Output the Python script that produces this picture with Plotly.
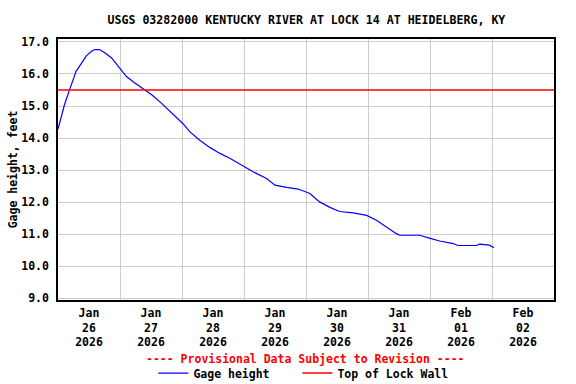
import plotly.graph_objects as go

title = "USGS 03282000 KENTUCKY RIVER AT LOCK 14 AT HEIDELBERG, KY"

times = [
    "2026-01-26 00:00", "2026-01-26 01:15", "2026-01-26 02:30", "2026-01-26 04:30",
    "2026-01-26 05:45", "2026-01-26 07:00", "2026-01-26 09:00", "2026-01-26 11:00",
    "2026-01-26 13:00", "2026-01-26 14:15", "2026-01-26 16:00", "2026-01-26 18:00",
    "2026-01-26 20:45", "2026-01-26 23:45", "2026-01-27 02:30", "2026-01-27 05:45",
    "2026-01-27 09:00", "2026-01-27 12:15", "2026-01-27 16:00", "2026-01-27 20:00",
    "2026-01-28 00:30", "2026-01-28 03:00", "2026-01-28 06:45", "2026-01-28 10:45",
    "2026-01-28 14:30", "2026-01-28 18:30", "2026-01-28 23:30", "2026-01-29 03:30",
    "2026-01-29 08:45", "2026-01-29 12:00", "2026-01-29 16:30", "2026-01-29 21:00",
    "2026-01-30 01:30", "2026-01-30 05:15", "2026-01-30 09:15", "2026-01-30 13:00",
    "2026-01-30 18:15", "2026-01-30 23:30", "2026-01-31 03:15", "2026-01-31 07:00",
    "2026-01-31 11:00", "2026-01-31 12:15", "2026-01-31 20:00", "2026-01-31 23:45",
    "2026-02-01 03:45", "2026-02-01 09:00", "2026-02-01 10:45", "2026-02-01 18:00",
    "2026-02-01 19:15", "2026-02-01 23:00", "2026-02-02 00:45",
]
gage_height = [
    14.28, 14.67, 15.04, 15.51,
    15.77, 16.08, 16.32, 16.57,
    16.71, 16.76, 16.76, 16.67,
    16.50, 16.19, 15.92, 15.72,
    15.53, 15.35, 15.09, 14.78,
    14.44, 14.20, 13.94, 13.71,
    13.53, 13.37, 13.13, 12.95,
    12.74, 12.53, 12.46, 12.41,
    12.27, 12.01, 11.84, 11.71,
    11.67, 11.59, 11.44, 11.23,
    11.02, 10.97, 10.97, 10.88,
    10.79, 10.71, 10.65, 10.65,
    10.69, 10.66, 10.58,
]

lock_wall_x = ["2026-01-26 00:00", "2026-02-03 00:00"]
lock_wall_y = [15.5, 15.5]

day_labels = ["Jan<br>26<br>2026", "Jan<br>27<br>2026", "Jan<br>28<br>2026", "Jan<br>29<br>2026",
              "Jan<br>30<br>2026", "Jan<br>31<br>2026", "Feb<br>01<br>2026", "Feb<br>02<br>2026"]
day_noons = ["2026-01-26 12:00", "2026-01-27 12:00", "2026-01-28 12:00", "2026-01-29 12:00",
             "2026-01-30 12:00", "2026-01-31 12:00", "2026-02-01 12:00", "2026-02-02 12:00"]
day_starts = ["2026-01-27", "2026-01-28", "2026-01-29", "2026-01-30",
              "2026-01-31", "2026-02-01", "2026-02-02"]
y_ticks = [9, 10, 11, 12, 13, 14, 15, 16, 17]
y_labels = ["9.0", "10.0", "11.0", "12.0", "13.0", "14.0", "15.0", "16.0", "17.0"]

FONT = "DejaVu Sans Mono"
fs = 11.5

fig = go.Figure()
fig.add_trace(go.Scatter(x=times, y=gage_height, mode="lines", name="Gage height",
                         line=dict(color="#0000ff", width=1.2), legendwidth=99))
fig.add_trace(go.Scatter(x=lock_wall_x, y=lock_wall_y, mode="lines", name="Top of Lock Wall",
                         line=dict(color="#ff0000", width=1.5), legendwidth=125))

fig.update_layout(
    width=576, height=384,
    margin=dict(l=58, r=22, t=39, b=84, autoexpand=False),
    paper_bgcolor="white", plot_bgcolor="white",
    font=dict(family=FONT, size=fs, color="black"),
    title=dict(text="<b>" + title + "</b>", x=0.532, xanchor="center", y=0.948, yanchor="middle",
               font=dict(family=FONT, size=11.6, color="black")),
    showlegend=True,
    legend=dict(orientation="h", x=0.1923, xanchor="left", y=-0.28, yanchor="middle",
                font=dict(family=FONT, size=fs, color="black", weight="bold"),
                bgcolor="rgba(0,0,0,0)", borderwidth=0, itemwidth=30,
                tracegroupgap=0),
    annotations=[dict(text="<b>---- Provisional Data Subject to Revision ----</b>",
                      xref="paper", yref="paper", x=0.4995, y=-0.226,
                      xanchor="center", yanchor="middle", showarrow=False,
                      font=dict(family=FONT, size=fs, color="#ff0000"))],
)

fig.update_xaxes(
    type="date", range=["2026-01-26 00:00", "2026-02-03 00:00"],
    tickmode="array", tickvals=day_noons, ticktext=day_labels,
    ticks="", showgrid=False, tickfont=dict(family=FONT, size=fs, color="black", weight="bold"),
    ticklabelstandoff=1,
    minor=dict(tickmode="array", tickvals=day_starts, showgrid=True, gridcolor="#cccccc",
               gridwidth=1, ticks=""),
    showline=True, linecolor="black", linewidth=1.5, mirror=True, zeroline=False,
)
fig.update_yaxes(
    range=[8.95, 17.09], tickmode="array", tickvals=y_ticks, ticktext=y_labels,
    ticks="", showgrid=True, gridcolor="#cccccc", gridwidth=1,
    tickfont=dict(family=FONT, size=fs, color="black", weight="bold"),
    ticklabelstandoff=5,
    title=dict(text="<b>Gage height, feet</b>", font=dict(family=FONT, size=fs, color="black"),
               standoff=1),
    showline=True, linecolor="black", linewidth=1.5, mirror=True, zeroline=False,
)

fig.write_html("out.html", config={"displayModeBar": False},
               post_script="document.body.style.margin='0px';")
